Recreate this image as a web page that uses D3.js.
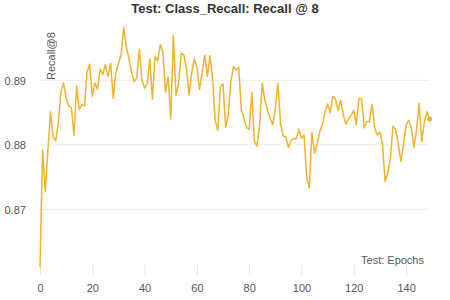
<!DOCTYPE html>
<html><head><meta charset="utf-8">
<script src="https://cdn.jsdelivr.net/npm/d3@7"></script>
<style>body{margin:0;background:#fff;}svg{display:block;font-family:"Liberation Sans",Arial,sans-serif;}</style>
</head><body>
<svg id="c" width="450" height="300"></svg>
<script>
const title = "Test: Class_Recall: Recall @ 8";
const yLabel = "Recall@8";
const xLabel = "Test: Epochs";
const xTicks = [0, 20, 40, 60, 80, 100, 120, 140];
const yTicks = [0.87, 0.88, 0.89];
const epochs = d3.range(0, 150);
const recall = [
0.8610,0.8792,0.8727,0.8790,0.8851,0.8813,0.8806,0.8833,0.8882,0.8896,
0.8872,0.8860,0.8858,0.8815,0.8891,0.8855,0.8862,0.8860,0.8913,0.8925,
0.8875,0.8896,0.8886,0.8917,0.8909,0.8924,0.8906,0.8926,0.8872,0.8912,
0.8926,0.8939,0.8982,0.8952,0.8934,0.8913,0.8898,0.8903,0.8948,0.8900,
0.8888,0.8895,0.8933,0.8871,0.8937,0.8930,0.8955,0.8944,0.8882,0.8905,
0.8840,0.8969,0.8877,0.8895,0.8942,0.8939,0.8919,0.8877,0.8911,0.8933,
0.8920,0.8886,0.8911,0.8939,0.8906,0.8938,0.8903,0.8838,0.8823,0.8890,
0.8894,0.8827,0.8846,0.8898,0.8921,0.8916,0.8920,0.8854,0.8841,0.8827,
0.8824,0.8881,0.8805,0.8798,0.8831,0.8895,0.8869,0.8854,0.8841,0.8831,
0.8857,0.8895,0.8833,0.8814,0.8812,0.8796,0.8807,0.8810,0.8809,0.8824,
0.8810,0.8815,0.8748,0.8733,0.8819,0.8787,0.8802,0.8820,0.8831,0.8851,
0.8863,0.8850,0.8875,0.8871,0.8853,0.8869,0.8846,0.8832,0.8840,0.8846,
0.8853,0.8831,0.8872,0.8871,0.8826,0.8836,0.8836,0.8863,0.8826,0.8815,
0.8820,0.8800,0.8743,0.8756,0.8779,0.8829,0.8823,0.8802,0.8774,0.8800,
0.8831,0.8838,0.8826,0.8796,0.8823,0.8864,0.8805,0.8836,0.8851,0.8840
];
const data = epochs.map((e, i) => ({x: e, y: recall[i]}));

const svg = d3.select("#c");
const x = d3.scaleLinear().domain([0, 149]).range([40, 429.6]);
const y = d3.scaleLinear().domain([0.85981, 0.89857]).range([275, 25]);

// gridlines
svg.append("g").selectAll("line").data(yTicks).join("line")
  .attr("x1", 40).attr("x2", 430)
  .attr("y1", d => y(d)).attr("y2", d => y(d))
  .attr("stroke", "#ececec").attr("stroke-width", 1);

// y axis
const yAxis = svg.append("g").attr("transform", "translate(28,0)")
  .call(d3.axisLeft(y).tickValues(yTicks).tickSize(0).tickPadding(2).tickFormat(d3.format(".2f")));
yAxis.select(".domain").remove();
yAxis.selectAll("text").attr("fill", "#555").style("font-size", "11px").attr("dy", "0.35em");

// x axis
const xAxis = svg.append("g").attr("transform", "translate(0,275)")
  .call(d3.axisBottom(x).tickValues(xTicks).tickSize(-11).tickPadding(8));
xAxis.select(".domain").remove();
xAxis.selectAll("line").attr("stroke", "#e4e4e4");
xAxis.selectAll("text").attr("fill", "#555").style("font-size", "11px")
  .attr("y", 9).attr("dy", "0.71em");

// line
svg.append("path").datum(data)
  .attr("fill", "none").attr("stroke", "#f0b32d").attr("stroke-width", 1.5)
  .attr("stroke-linejoin", "round")
  .attr("d", d3.line().x(d => x(d.x)).y(d => y(d.y)));

const last = data[data.length - 1];
svg.append("circle").attr("cx", x(last.x)).attr("cy", y(last.y)).attr("r", 2.5).attr("fill", "#f0b32d");

// labels
svg.append("text").attr("x", 225).attr("y", 12.5).attr("text-anchor", "middle")
  .attr("fill", "#333").style("font-size", "13px").style("font-weight", "bold").text(title);
svg.append("text").attr("transform", "translate(55,80) rotate(-90)").attr("text-anchor", "start")
  .attr("fill", "#555").style("font-size", "11px").text(yLabel);
svg.append("text").attr("x", 424).attr("y", 264).attr("text-anchor", "end")
  .attr("fill", "#555").style("font-size", "11px").text(xLabel);
</script>
</body></html>
